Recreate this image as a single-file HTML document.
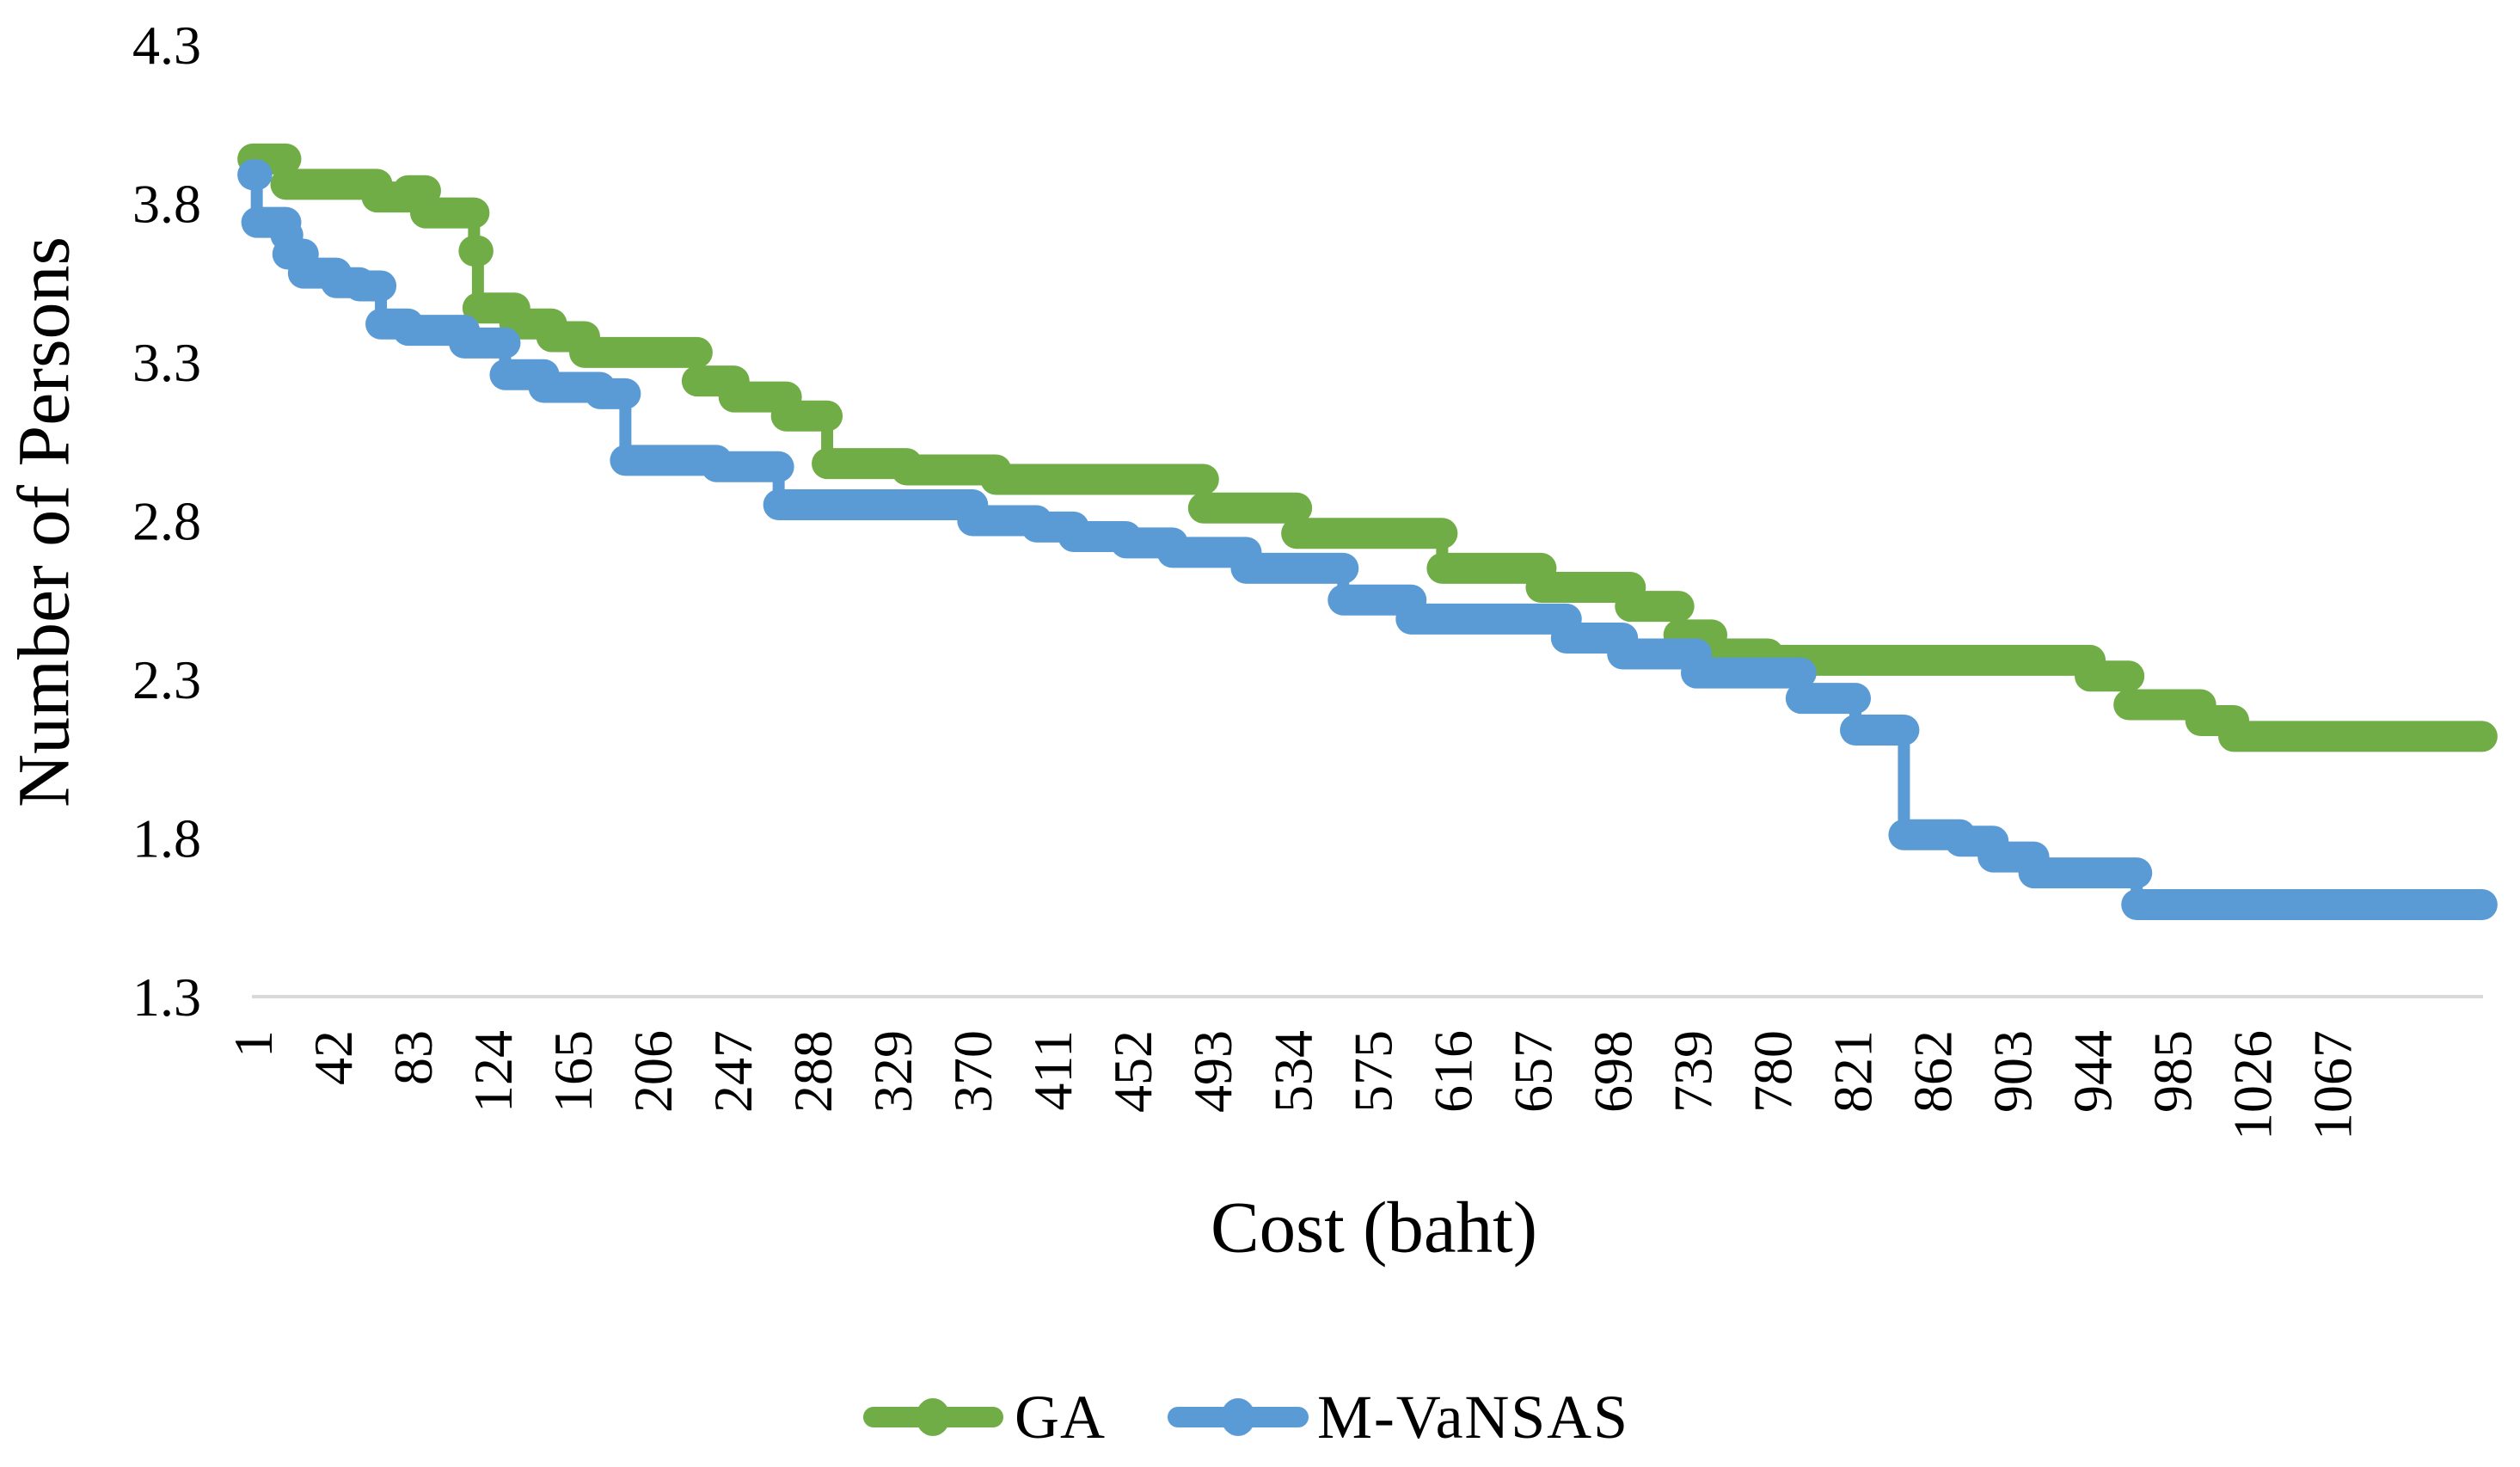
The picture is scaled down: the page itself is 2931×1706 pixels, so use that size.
<!DOCTYPE html>
<html><head><meta charset="utf-8"><style>
html,body{margin:0;padding:0;background:#fff;}
svg text{font-family:"Liberation Serif",serif;fill:#000;}
</style></head><body>
<svg id="chart" width="2931" height="1701" viewBox="0 0 2931 1701" xmlns="http://www.w3.org/2000/svg">
<rect width="2931" height="1701" fill="#fff"/>
<g id="grid"></g>
<g id="series"></g>
<g id="axes"></g>
<text x="60" y="607" font-size="86" text-anchor="middle" transform="rotate(-90 60 607)" dominant-baseline="middle">Number of Persons</text>
<text x="1598" y="1436" font-size="85" text-anchor="middle" dominant-baseline="middle">Cost (baht)</text>
<g>
 <g>
  <line x1="1016" y1="1648" x2="1155" y2="1648" stroke="#70AD47" stroke-width="24" stroke-linecap="round"/>
  <ellipse cx="1085" cy="1648" rx="20" ry="22" fill="#70AD47"/>
  <text x="1180" y="1672" font-size="72" textLength="105">GA</text>
 </g>
 <g>
  <line x1="1370" y1="1648" x2="1510" y2="1648" stroke="#5B9BD5" stroke-width="24" stroke-linecap="round"/>
  <ellipse cx="1440" cy="1648" rx="20" ry="22" fill="#5B9BD5"/>
  <text x="1532" y="1672" font-size="72" textLength="361">M-VaNSAS</text>
 </g>
</g>
</svg>
<script>
const N = 1150;
const yTicks = [1.3, 1.8, 2.3, 2.8, 3.3, 3.8, 4.3];
const xTickLabels = [1,42,83,124,165,206,247,288,329,370,411,452,493,534,575,616,657,698,739,780,821,862,903,944,985,1026,1067];
const gaStarts = [1,18,65,81,90,115,117,136,155,172,230,249,276,297,338,384,491,539,614,665,711,736,753,782,948,968,1005,1022];
const gaValues = [3.94,3.86,3.82,3.84,3.77,3.65,3.47,3.42,3.38,3.33,3.24,3.19,3.13,2.98,2.96,2.93,2.84,2.76,2.65,2.59,2.53,2.44,2.38,2.36,2.31,2.22,2.17,2.12];
const mvStarts = [1,3,18,19,27,44,56,67,81,110,131,151,180,193,240,272,372,405,424,451,475,513,563,598,678,707,745,799,827,852,881,898,919,972];
const mvValues = [3.89,3.74,3.70,3.64,3.58,3.55,3.54,3.42,3.40,3.36,3.26,3.22,3.20,2.99,2.97,2.85,2.80,2.78,2.75,2.73,2.70,2.65,2.55,2.49,2.43,2.38,2.32,2.24,2.14,1.81,1.79,1.74,1.69,1.59];

const X0 = 293, X1 = 2888, Y0 = 1159, Y1 = 52;
const step = (X1 - X0) / N;
function x(i){ return X0 + (i - 0.5) * step; }
function y(v){ return Y0 - (v - 1.3) / (4.3 - 1.3) * (Y0 - Y1); }
const NS = "http://www.w3.org/2000/svg";
function mk(tag, attrs, parent){ const e = document.createElementNS(NS, tag); for (const k in attrs) e.setAttribute(k, attrs[k]); parent.appendChild(e); return e; }

const axes = document.getElementById('axes');
const base = mk('line', {x1: X0, x2: X1, y1: Y0, y2: Y0, stroke: '#d9d9d9', 'stroke-width': 4}, axes);


yTicks.forEach(v => {
  const t = mk('text', {x: 234, y: y(v) + 22, 'font-size': 64, 'text-anchor': 'end'}, axes);
  t.textContent = v.toFixed(1);
  
  
});
xTickLabels.forEach(c => {
  const px = x(c) + 22 + (c - 1) * 0.012, py = 1198;
  const t = mk('text', {x: px, y: py, 'font-size': 64, 'text-anchor': 'end', transform: `rotate(-90 ${px} ${py})`}, axes);
  t.textContent = c;
  
  
});

const series = document.getElementById('series');
function drawSeries(starts, values, color, name){
  const g = mk('g', {}, series);
  
  
  let d = '';
  starts.forEach((s, k) => {
    const e = k + 1 < starts.length ? starts[k + 1] : N;
    d += (k === 0 ? 'M' : 'L') + x(s) + ' ' + y(values[k]) + ' L' + x(e) + ' ' + y(values[k]) + ' ';
  });
  mk('path', {d: d, fill: 'none', stroke: color, 'stroke-width': 14, 'stroke-linejoin': 'round'}, g);
  starts.forEach((s, k) => {
    const e = k + 1 < starts.length ? starts[k + 1] : N;
    const seg = mk('line', {x1: x(s), x2: x(e), y1: y(values[k]), y2: y(values[k]), stroke: color, 'stroke-width': 36, 'stroke-linecap': 'round'}, g);
    
    
  });
}
drawSeries(gaStarts, gaValues, '#70AD47', 'series-ga');
drawSeries(mvStarts, mvValues, '#5B9BD5', 'series-m-vansas');
</script>
</body></html>
